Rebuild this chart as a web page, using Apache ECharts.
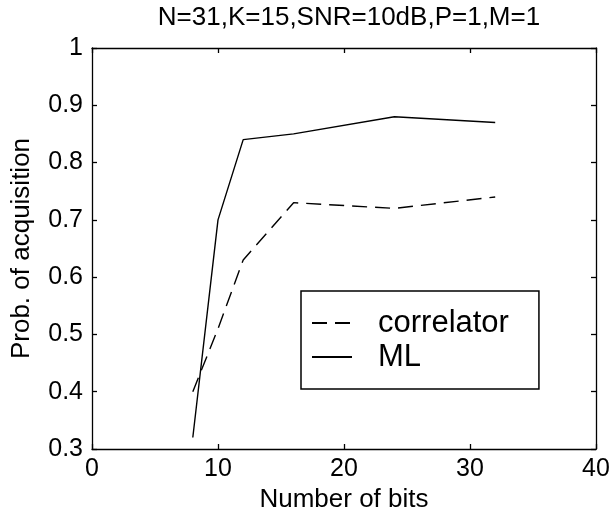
<!DOCTYPE html>
<html>
<head>
<meta charset="utf-8">
<script src="https://cdn.jsdelivr.net/npm/echarts@6/dist/echarts.min.js"></script>
<style>
html,body{margin:0;padding:0;background:#fff;}
#chart{width:615px;height:520px;}
</style>
</head>
<body>
<div id="chart"></div>
<script>
var titleText = 'N=31,K=15,SNR=10dB,P=1,M=1';
var xName = 'Number of bits';
var yName = 'Prob. of acquisition';
var bits = [8, 10, 12, 16, 24, 32];
var correlatorValues = [0.40, 0.51, 0.63, 0.73, 0.72, 0.74];
var mlValues = [0.32, 0.70, 0.84, 0.85, 0.88, 0.87];
var seriesNames = ['correlator', 'ML'];
var xTicks = [0, 10, 20, 30, 40];
var yTicks = [0.3, 0.4, 0.5, 0.6, 0.7, 0.8, 0.9, 1];

function pairs(xs, ys) { return xs.map(function (x, i) { return [x, ys[i]]; }); }

var font = '"Liberation Sans", Arial, Helvetica, sans-serif';
var axisLine = { show: true, onZero: false, lineStyle: { color: '#000', width: 1.3 } };
var axisTick = { show: true, inside: true, length: 5, lineStyle: { color: '#000', width: 1.3 } };

var chart = echarts.init(document.getElementById('chart'));
chart.setOption({
  animation: false,
  backgroundColor: '#fff',
  title: {
    text: titleText,
    left: 344, top: 0, textAlign: 'center',
    textStyle: { fontFamily: font, fontSize: 26, fontWeight: 'normal', color: '#000' }
  },
  grid: { left: 92, right: 19, top: 48, bottom: 71, containLabel: false },
  legend: {
    orient: 'vertical',
    left: 301, top: 291,
    padding: [15, 30, 15, 10],
    itemGap: 0,
    itemWidth: 40, itemHeight: 34,
    backgroundColor: '#fff',
    borderColor: '#000', borderWidth: 1.5,
    itemStyle: { opacity: 0 },
    data: seriesNames,
    textStyle: { fontFamily: font, fontSize: 31, color: '#000', padding: [0, 0, 0, 21], lineHeight: 34 }
  },
  xAxis: [{
    type: 'value', min: xTicks[0], max: xTicks[xTicks.length - 1], interval: 10,
    name: xName, nameLocation: 'middle', nameGap: 35,
    nameTextStyle: { fontFamily: font, fontSize: 26, color: '#000' },
    axisLine: axisLine, axisTick: axisTick,
    axisLabel: { color: '#000', fontFamily: font, fontSize: 25, margin: 8 },
    splitLine: { show: false }
  }, {
    type: 'value', position: 'top', min: xTicks[0], max: xTicks[xTicks.length - 1], interval: 10,
    axisLine: axisLine, axisTick: axisTick, axisLabel: { show: false }, splitLine: { show: false }
  }],
  yAxis: [{
    type: 'value', min: yTicks[0], max: yTicks[yTicks.length - 1], interval: 0.1,
    name: yName, nameLocation: 'middle', nameGap: 57,
    nameTextStyle: { fontFamily: font, fontSize: 26, color: '#000' },
    axisLine: axisLine, axisTick: axisTick,
    axisLabel: { color: '#000', fontFamily: font, fontSize: 25, margin: 9,
      formatter: function (v) { return String(Math.round(v * 10) / 10); } },
    splitLine: { show: false }
  }, {
    type: 'value', position: 'right', min: yTicks[0], max: yTicks[yTicks.length - 1], interval: 0.1,
    axisLine: axisLine, axisTick: axisTick, axisLabel: { show: false }, splitLine: { show: false }
  }],
  series: [{
    name: seriesNames[0], type: 'line', data: pairs(bits, correlatorValues),
    symbol: 'none', lineStyle: { color: '#000', width: 1.4, type: [15, 8] },
    itemStyle: { color: '#000' }
  }, {
    name: seriesNames[1], type: 'line', data: pairs(bits, mlValues),
    symbol: 'none', lineStyle: { color: '#000', width: 1.4, type: 'solid' },
    itemStyle: { color: '#000' }
  }]
});
</script>
</body>
</html>
